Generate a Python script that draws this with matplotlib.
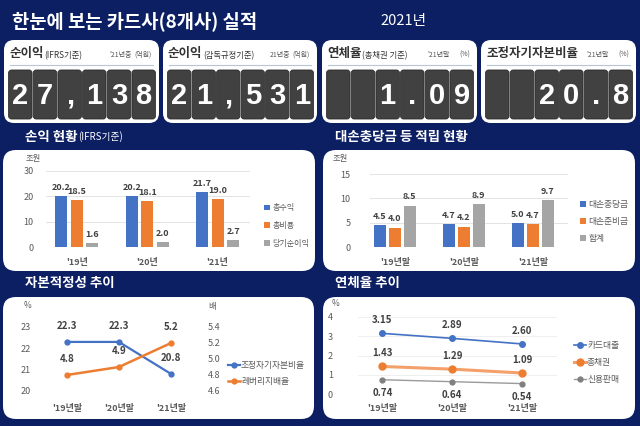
import numpy as np
import matplotlib.pyplot as plt
from matplotlib.patches import FancyBboxPatch

plt.rcParams['font.family'] = ['Noto Sans CJK KR', 'DejaVu Sans']

NAVY = '#0c1f63'
BLUE = '#4472c4'
ORANGE = '#ed7d31'
GRAY = '#a5a5a5'
TXT = '#404040'
TICK = '#595959'

# ---- data ----
years = ["'19년", "'20년", "'21년"]
years_end = ["'19년말", "'20년말", "'21년말"]

revenue = [20.2, 20.2, 21.7]
expense = [18.5, 18.1, 19.0]
net_income = [1.6, 2.0, 2.7]

allowance = [4.5, 4.7, 5.0]
reserve = [4.0, 4.2, 4.7]
allow_total = [8.5, 8.9, 9.7]

capital_ratio = [22.3, 22.3, 20.8]
leverage = [4.8, 4.9, 5.2]

card_loan = [3.15, 2.89, 2.60]
total_loan = [1.43, 1.29, 1.09]
credit_sales = [0.74, 0.64, 0.54]

kpi_titles = ['순이익', '순이익', '연체율', '조정자기자본비율']
kpi_subs = ['(IFRS기준)', '(감독규정기준)', '(총채권 기준)', '']
kpi_periods = ["'21년중", "21년중", "'21년말", "'21년말"]
kpi_units = ['(억원)', '(억원)', '(%)', '(%)']
kpi_values = ['27,138', '21,531', '1.09', '20.8']

W, H = 640, 426
fig = plt.figure(figsize=(6.4, 4.26), dpi=100)
fig.patch.set_facecolor(NAVY)

bg = fig.add_axes([0, 0, 1, 1])
bg.set_xlim(0, W)
bg.set_ylim(H, 0)
bg.axis('off')


def box(x0, y0, x1, y1, r, fc, ec='none', lw=0):
    p = FancyBboxPatch((x0, y0), x1 - x0, y1 - y0,
                       boxstyle='round,pad=0,rounding_size=%g' % r,
                       fc=fc, ec=ec, lw=lw)
    bg.add_patch(p)


def px_axes(x0, y0, x1, y1):
    ax = fig.add_axes([x0 / W, 1 - y1 / H, (x1 - x0) / W, (y1 - y0) / H])
    ax.set_facecolor('none')
    return ax


def fpos(x, y):
    return (x / W, 1 - y / H)


# ---- header ----
bg.text(12, 21, '한눈에 보는 카드사(8개사) 실적', color='white', fontsize=13.5,
        fontweight='bold', va='center')
bg.text(380, 21, '2021년', color='white', fontsize=10.5, va='center')

# ---- KPI boxes ----
kpi_x = [(4, 159), (163, 317), (322, 477), (481, 636)]
for i, (x0, x1) in enumerate(kpi_x):
    box(x0, 40, x1, 123, 10, 'white')
    t = bg.text(x0 + 5, 57, kpi_titles[i], fontsize=9, fontweight='bold',
                color='#333333', va='baseline')
    if kpi_subs[i]:
        bg.annotate(kpi_subs[i], xy=(1, 0), xycoords=t, fontsize=6,
                    color='#333333', va='bottom', xytext=(0.5, 0),
                    textcoords='offset points')
    bg.text(x1 - 7, 57, kpi_units[i], fontsize=5, color='#555555',
            ha='right', va='baseline')
    bg.text(x1 - 27, 57, kpi_periods[i], fontsize=5, color='#555555',
            ha='right', va='baseline')
    bg.plot([x0 + 6, x1 - 6], [64.5, 64.5], color='#b8c4d8', lw=0.8)
    span = (x1 - 3) - (x0 + 4)
    tw = span / 6
    chars = kpi_values[i].rjust(6)
    for k in range(6):
        tx = x0 + 4 + k * tw
        box(tx + 0.6, 70, tx + tw - 0.6, 119, 3, '#414141', ec='#2a2a2a', lw=0.6)
        if chars[k] != ' ':
            bg.text(tx + tw / 2, 96, chars[k], color='white', fontsize=21,
                    fontweight='bold', ha='center', va='center',
                    family=['Liberation Sans Narrow', 'Liberation Sans', 'DejaVu Sans'])

# ---- section titles ----
t1 = bg.text(25, 137, '손익 현황', color='white', fontsize=9.7,
             fontweight='bold', va='center')
bg.annotate('(IFRS기준)', xy=(1, 0.5), xycoords=t1, color='white', fontsize=7,
            va='center', xytext=(0.5, 0), textcoords='offset points')
bg.text(335, 137, '대손충당금 등 적립 현황', color='white', fontsize=9.7,
        fontweight='bold', va='center')
bg.text(25, 283, '자본적정성 추이', color='white', fontsize=9.7,
        fontweight='bold', va='center')
bg.text(335, 283, '연체율 추이', color='white', fontsize=9.7,
        fontweight='bold', va='center')

# ---- panels ----
box(3, 150, 315, 271, 13, 'white')
box(323, 150, 635, 271, 13, 'white')
box(3, 297, 314, 419, 13, 'white')
box(323, 297, 635, 419, 13, 'white')


def style_ax(ax, pad_y, pad_x):
    for s in ax.spines.values():
        s.set_visible(False)
    ax.tick_params(axis='both', length=0, labelsize=6.5, labelcolor=TICK)
    ax.tick_params(axis='y', pad=pad_y)
    ax.tick_params(axis='x', pad=pad_x)
    for lab in ax.get_xticklabels():
        lab.set_fontweight('bold')
        lab.set_color(TICK)


def bar_group(ax, series, colors, labels, bw, off):
    x = np.arange(3)
    for j, (vals, c, lab) in enumerate(zip(series, colors, labels)):
        xs = x + (j - 1) * off
        ax.bar(xs, vals, width=bw, color=c, label=lab, zorder=3)
        for xx, v in zip(xs, vals):
            ax.annotate('%.1f' % v, (xx, v), xytext=(0, 3),
                        textcoords='offset points', ha='center', va='bottom',
                        fontsize=6.5, fontweight='bold', color=TXT)


# ---- chart 1: 손익 현황 ----
ax1 = px_axes(46, 171, 250, 247)
bar_group(ax1, [revenue, expense, net_income], [BLUE, ORANGE, GRAY],
          ['총수익', '총비용', '당기순이익'], 0.17, 0.22)
ax1.set_xlim(-0.44, 2.46)
ax1.set_ylim(0, 30)
ax1.set_yticks([0, 10, 20, 30])
ax1.set_xticks(range(3))
ax1.set_xticklabels(years)
ax1.grid(axis='y', color='#e3e3e3', lw=0.7, zorder=0)
style_ax(ax1, 9, 8)
bg.text(26, 159, '조원', fontsize=6, color=TICK, va='center')
ax1.legend(loc='upper left', bbox_to_anchor=fpos(257, 196),
           bbox_transform=fig.transFigure, frameon=False, fontsize=5.8,
           handlelength=0.7, handleheight=0.7, handletextpad=0.3,
           labelspacing=1.1, labelcolor=TICK)

# ---- chart 2: 대손충당금 ----
ax2 = px_axes(370, 174, 568, 247)
bar_group(ax2, [allowance, reserve, allow_total], [BLUE, ORANGE, GRAY],
          ['대손충당금', '대손준비금', '합계'], 0.17, 0.215)
ax2.set_xlim(-0.36, 2.51)
ax2.set_ylim(0, 15)
ax2.set_yticks([0, 5, 10, 15])
ax2.set_xticks(range(3))
ax2.set_xticklabels(years_end)
ax2.grid(axis='y', color='#e3e3e3', lw=0.7, zorder=0)
style_ax(ax2, 14, 8)
bg.text(333, 159, '조원', fontsize=6, color=TICK, va='center')
ax2.legend(loc='upper left', bbox_to_anchor=fpos(572, 192),
           bbox_transform=fig.transFigure, frameon=False, fontsize=6.3,
           handlelength=0.7, handleheight=0.7, handletextpad=0.3,
           labelspacing=0.9, labelcolor=TICK)

# ---- chart 3: 자본적정성 ----
ax3 = px_axes(45, 327, 195, 391)
ax3r = ax3.twinx()
ax3r.set_facecolor('none')
x = np.arange(3)
l1, = ax3.plot(x, capital_ratio, color=BLUE, lw=1.6, marker='o', ms=3.5,
               label='조정자기자본비율')
l2, = ax3r.plot(x, leverage, color=ORANGE, lw=1.8, marker='o', ms=3.5,
                label='레버리지배율')
ax3.set_xlim(-0.42, 2.46)
ax3.set_ylim(20, 23)
ax3r.set_ylim(4.6, 5.4)
ax3.set_yticks([20, 21, 22, 23])
ax3r.set_yticks([4.6, 4.8, 5.0, 5.2, 5.4])
ax3r.set_yticklabels(['%.1f' % v for v in [4.6, 4.8, 5.0, 5.2, 5.4]])
ax3.set_xticks(range(3))
ax3.set_xticklabels(years_end)
style_ax(ax3, 10, 9)
for s in ax3r.spines.values():
    s.set_visible(False)
ax3r.tick_params(axis='y', length=0, labelsize=6.5, labelcolor=TICK, pad=9)
for xx, v in zip(x, capital_ratio):
    ax3.annotate('%.1f' % v, (xx, v), xytext=(0, 8),
                 textcoords='offset points', ha='center', va='bottom',
                 fontsize=7, fontweight='bold', color=TXT)
for xx, v in zip(x, leverage):
    ax3r.annotate('%.1f' % v, (xx, v), xytext=(0, 8),
                  textcoords='offset points', ha='center', va='bottom',
                  fontsize=7, fontweight='bold', color=TXT)
bg.text(28, 306, '%', fontsize=6, color=TICK, va='center', ha='center')
bg.text(212, 306, '배', fontsize=6, color=TICK, va='center', ha='center')
ax3r.legend(handles=[l1, l2], loc='upper left', bbox_to_anchor=fpos(220, 353),
            bbox_transform=fig.transFigure, frameon=False, fontsize=6.3,
            handlelength=1.4, handletextpad=0.1, labelspacing=0.8,
            labelcolor=TICK)

# ---- chart 4: 연체율 ----
ax4 = px_axes(358, 317, 557, 394)
m1, = ax4.plot(x, card_loan, color=BLUE, lw=1.2, marker='o', ms=4,
               label='카드대출', zorder=3)
m2, = ax4.plot(x, total_loan, color='#f4a06a', lw=2.2, marker='o', ms=5,
               mfc=ORANGE, mec=ORANGE, label='총채권', zorder=3)
m3, = ax4.plot(x, credit_sales, color='#9a9a9a', lw=1.0, marker='o', ms=3.5,
               mfc='#808080', mec='#808080', label='신용판매', zorder=3)
ax4.set_xlim(-0.35, 2.5)
ax4.set_ylim(0, 4)
ax4.set_yticks([0, 1, 2, 3, 4])
ax4.set_xticks(range(3))
ax4.set_xticklabels(years_end)
ax4.grid(axis='y', color='#ececec', lw=0.6, zorder=0)
style_ax(ax4, 18, 7)
for vals, dy, va in [(card_loan, 6, 'bottom'), (total_loan, 6, 'bottom'),
                     (credit_sales, -6, 'top')]:
    for xx, v in zip(x, vals):
        ax4.annotate('%.2f' % v, (xx, v), xytext=(0, dy),
                     textcoords='offset points', ha='center', va=va,
                     fontsize=7, fontweight='bold', color=TXT)
bg.text(335, 303, '%', fontsize=6, color=TICK, va='center', ha='center')
ax4.legend(handles=[m1, m2, m3], loc='upper left', bbox_to_anchor=fpos(566, 333),
           bbox_transform=fig.transFigure, frameon=False, fontsize=6.3,
           handlelength=1.4, handletextpad=0.1, labelspacing=0.9,
           labelcolor=TICK)

fig.savefig('out.png', dpi=100, facecolor=NAVY)
